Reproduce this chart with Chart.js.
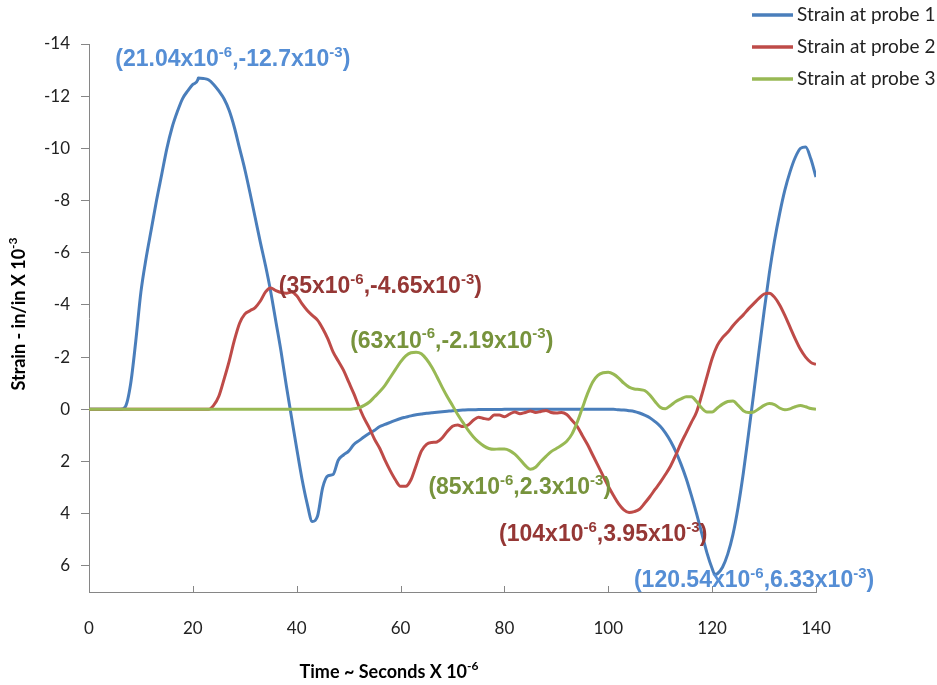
<!DOCTYPE html>
<html>
<head>
<meta charset="utf-8">
<title>Strain at probes</title>
<script src="https://cdn.jsdelivr.net/npm/chart.js@4.4.0/dist/chart.umd.min.js"></script>
<style>
  html, body { margin: 0; padding: 0; background: #fff; }
  #chart01 { display: block; }
</style>
</head>
<body>
<canvas id="chart01" width="937" height="685"></canvas>
<script>
// time axis, microseconds
const timeUs = [
  0, 1, 2, 3, 4, 5, 6, 7, 8, 9,
  10, 11, 12, 13, 14, 15, 16, 17, 18, 19,
  20, 21, 22, 23, 24, 25, 26, 27, 28, 29,
  30, 31, 32, 33, 34, 35, 36, 37, 38, 39,
  40, 41, 42, 43, 44, 45, 46, 47, 48, 49,
  50, 51, 52, 53, 54, 55, 56, 57, 58, 59,
  60, 61, 62, 63, 64, 65, 66, 67, 68, 69,
  70, 71, 72, 73, 74, 75, 76, 77, 78, 79,
  80, 81, 82, 83, 84, 85, 86, 87, 88, 89,
  90, 91, 92, 93, 94, 95, 96, 97, 98, 99,
  100, 101, 102, 103, 104, 105, 106, 107, 108, 109,
  110, 111, 112, 113, 114, 115, 116, 117, 118, 119,
  120, 121, 122, 123, 124, 125, 126, 127, 128, 129,
  130, 131, 132, 133, 134, 135, 136, 137, 138, 139,
  140
];

// strain, in/in x 10^-3
const probe1 = [
  0, 0, 0, 0, 0, 0, 0, -0.1, -0.95, -2.6,
  -4.5, -5.8, -6.9, -8.0, -9.0, -10.0, -10.8, -11.4, -11.9, -12.2,
  -12.45, -12.65, -12.68, -12.63, -12.45, -12.2, -11.9, -11.45, -10.8, -10.0,
  -9.2, -8.3, -7.35, -6.4, -5.5, -4.5, -3.35, -2.2, -0.9, 0.3,
  1.5, 2.65, 3.6, 4.3, 4.1, 3.0, 2.55, 2.5, 1.95, 1.75,
  1.6, 1.35, 1.2, 1.05, 0.92, 0.8, 0.66, 0.58, 0.5, 0.42,
  0.35, 0.3, 0.25, 0.21, 0.18, 0.15, 0.13, 0.11, 0.09, 0.07,
  0.05, 0.04, 0.03, 0.02, 0.02, 0.01, 0.01, 0.01, 0.01, 0.01,
  0, 0, 0, 0, 0, 0, 0, 0, 0, 0,
  0, 0, 0, 0, 0, 0, 0, 0, 0, 0,
  0, 0, 0.02, 0.03, 0.05, 0.08, 0.14, 0.22, 0.32, 0.47,
  0.65, 0.9, 1.22, 1.62, 2.1, 2.65, 3.3, 4.0, 4.75, 5.5,
  6.1, 6.3, 6.05, 5.55, 4.8, 3.75, 2.45, 0.95, -0.6, -2.2,
  -3.75, -5.2, -6.45, -7.5, -8.4, -9.1, -9.65, -10.0, -10.05, -9.6,
  -8.9
];

const probe2 = [
  0, 0, 0, 0, 0, 0, 0, 0, 0, 0,
  0, 0, 0, 0, 0, 0, 0, 0, 0, 0,
  0, 0, 0, 0, -0.15, -0.5, -1.15, -1.85, -2.65, -3.3,
  -3.65, -3.78, -3.9, -4.15, -4.5, -4.65, -4.55, -4.48, -4.45, -4.5,
  -4.35, -4.05, -3.8, -3.6, -3.42, -3.1, -2.7, -2.2, -1.85, -1.5,
  -1.05, -0.6, -0.1, 0.35, 0.72, 1.15, 1.5, 1.95, 2.35, 2.7,
  2.95, 2.95, 2.7, 2.15, 1.6, 1.34, 1.27, 1.25, 1.1, 0.85,
  0.65, 0.6, 0.66, 0.6, 0.42, 0.3, 0.35, 0.38, 0.22, 0.22,
  0.28, 0.18, 0.1, 0.17, 0.12, 0.06, 0.12, 0.08, 0.04, 0.12,
  0.14, 0.12, 0.2, 0.42, 0.65, 1.0, 1.35, 1.75, 2.15, 2.55,
  2.95, 3.3, 3.62, 3.85, 3.95, 3.92, 3.83, 3.6, 3.35, 3.07,
  2.8, 2.5, 2.17, 1.75, 1.3, 0.9, 0.5, 0.1, -0.55, -1.25,
  -1.95, -2.45, -2.75, -2.95, -3.2, -3.42, -3.62, -3.85, -4.05, -4.25,
  -4.42, -4.45, -4.3, -4.0, -3.6, -3.15, -2.7, -2.3, -2.0, -1.8,
  -1.72
];

const probe3 = [
  0, 0, 0, 0, 0, 0, 0, 0, 0, 0,
  0, 0, 0, 0, 0, 0, 0, 0, 0, 0,
  0, 0, 0, 0, 0, 0, 0, 0, 0, 0,
  0, 0, 0, 0, 0, 0, 0, 0, 0, 0,
  0, 0, 0, 0, 0, 0, 0, 0, 0, 0,
  0, -0.02, -0.06, -0.15, -0.28, -0.48, -0.68, -0.92, -1.22, -1.52,
  -1.82, -2.05, -2.17, -2.19, -2.13, -1.92, -1.62, -1.25, -0.85, -0.48,
  -0.15, 0.2, 0.5, 0.8, 1.05, 1.25, 1.4, 1.5, 1.53, 1.52,
  1.52, 1.58, 1.72, 1.92, 2.15, 2.3, 2.22, 2.0, 1.8, 1.62,
  1.5, 1.38, 1.22, 0.95, 0.5, -0.05, -0.6, -1.05, -1.3, -1.4,
  -1.42, -1.35, -1.2, -1.0, -0.85, -0.78, -0.76, -0.72, -0.55, -0.3,
  -0.08, -0.02, -0.15, -0.3, -0.4, -0.48, -0.48, -0.3, -0.05, 0.1,
  0.1, -0.05, -0.2, -0.3, -0.32, -0.15, 0.05, 0.12, 0.1, -0.02,
  -0.15, -0.22, -0.18, -0.05, 0.02, -0.02, -0.1, -0.15, -0.1, -0.03,
  0
];

const seriesNames = ['Strain at probe 1', 'Strain at probe 2', 'Strain at probe 3'];
const lineColors = ['#4A7EBB', '#BE4B48', '#98B954'];
const labelColors = ['#558ED5', '#953735', '#77933C'];

// labelled extremes: which probe, time (us), strain (x10^-3)
const peakProbe = [0, 1, 2, 2, 1, 0];
const peakTime = [21.04, 35, 63, 85, 104, 120.54];
const peakStrain = [-12.7, -4.65, -2.19, 2.3, 3.95, 6.33];
// label placement relative to its point, px (left edge, vertical middle)
const peakLabelOffset = [[-83, -18], [8, -1], [-66, -11], [-102, 18], [-130, 22], [-81, 6]];

const yTicks = [-14, -12, -10, -8, -6, -4, -2, 0, 2, 4, 6];

const FONT = 'Lato, "Noto Sans", sans-serif';
const LABEL_FONT = '"Liberation Sans", Arial, sans-serif';

// merge the labelled points into a probe's series
function buildPoints(values, probeIdx) {
  const pts = timeUs.map((t, i) => ({ x: t, y: values[i] }));
  peakTime.forEach((t, k) => {
    if (peakProbe[k] !== probeIdx) return;
    const hit = pts.find(p => p.x === t);
    if (hit) hit.y = peakStrain[k];
    else pts.push({ x: t, y: peakStrain[k] });
  });
  return pts.sort((a, b) => a.x - b.x);
}

// draws text made of normal and superscript pieces, starting at x
function drawParts(ctx, parts, x, y, size, weight, family) {
  ctx.textBaseline = 'middle';
  ctx.textAlign = 'left';
  parts.forEach(p => {
    const sup = p[1];
    const s = sup ? Math.round(size * 0.65) : size;
    ctx.font = weight + ' ' + s + 'px ' + family;
    ctx.fillText(p[0], x, sup ? y - size * 0.3 : y);
    x += ctx.measureText(p[0]).width;
  });
  return x;
}

function partsWidth(ctx, parts, size, weight, family) {
  let w = 0;
  parts.forEach(p => {
    const s = p[1] ? Math.round(size * 0.65) : size;
    ctx.font = weight + ' ' + s + 'px ' + family;
    w += ctx.measureText(p[0]).width;
  });
  return w;
}

const extras = {
  id: 'extras',
  afterDraw(chart) {
    const ctx = chart.ctx;
    const xs = chart.scales.x;
    const ys = chart.scales.y;
    ctx.save();

    // x tick marks point into the plot
    ctx.strokeStyle = '#868686';
    ctx.lineWidth = 1;
    xs.ticks.forEach(t => {
      const px = Math.round(xs.getPixelForValue(t.value)) + 0.5;
      ctx.beginPath();
      ctx.moveTo(px, ys.bottom);
      ctx.lineTo(px, ys.bottom - 6);
      ctx.stroke();
    });

    // value labels at the extremes
    peakTime.forEach((t, k) => {
      const v = peakStrain[k];
      const px = xs.getPixelForValue(t);
      const py = ys.getPixelForValue(v);
      ctx.fillStyle = labelColors[peakProbe[k]];
      drawParts(ctx, [
        ['(' + t + 'x10', false], ['-6', true],
        [',' + v + 'x10', false], ['-3', true], [')', false]
      ], px + peakLabelOffset[k][0], py + peakLabelOffset[k][1], 23, 'bold', LABEL_FONT);
    });

    // axis titles
    ctx.fillStyle = '#000';
    const xTitle = [['Time ~ Seconds X 10', false], ['-6', true]];
    const xw = partsWidth(ctx, xTitle, 18, 'bold', FONT);
    drawParts(ctx, xTitle, 389 - xw / 2, 672, 18, 'bold', FONT);

    const yTitle = [['Strain - in/in X 10', false], ['-3', true]];
    const yw = partsWidth(ctx, yTitle, 18, 'bold', FONT);
    ctx.save();
    ctx.translate(19, 314);
    ctx.rotate(-Math.PI / 2);
    drawParts(ctx, yTitle, -yw / 2, 0, 18, 'bold', FONT);
    ctx.restore();

    // legend, top right
    seriesNames.forEach((name, i) => {
      const ly = 15 + i * 32;
      ctx.strokeStyle = lineColors[i];
      ctx.lineWidth = 3.5;
      ctx.beginPath();
      ctx.moveTo(752, ly);
      ctx.lineTo(793, ly);
      ctx.stroke();
      ctx.fillStyle = '#222';
      ctx.font = '19px ' + FONT;
      ctx.textBaseline = 'middle';
      ctx.textAlign = 'left';
      ctx.fillText(name, 797, ly);
    });

    ctx.restore();
  }
};

const datasets = [probe1, probe2, probe3].map((vals, i) => ({
  label: seriesNames[i],
  data: buildPoints(vals, i),
  borderColor: lineColors[i],
  backgroundColor: lineColors[i],
  borderWidth: 3,
  pointRadius: 0,
  cubicInterpolationMode: 'monotone',
  order: 2 - i
}));

const ctx = document.getElementById('chart01');
const myLineChart = new Chart(ctx, {
  type: 'line',
  data: { datasets: datasets },
  options: {
    responsive: false,
    animation: false,
    layout: { padding: { top: 44, right: 121, left: 0, bottom: 0 } },
    plugins: {
      legend: { display: false },
      tooltip: { enabled: false }
    },
    scales: {
      x: {
        type: 'linear',
        min: 0,
        max: 140,
        ticks: { stepSize: 20, padding: 26, color: '#222', font: { family: FONT, size: 17 } },
        grid: { drawOnChartArea: false, drawTicks: false },
        border: { color: '#868686' },
        afterFit: scale => { scale.height = 93; }
      },
      y: {
        reverse: true,
        min: -14,
        max: 7,
        afterBuildTicks: scale => { scale.ticks = yTicks.map(v => ({ value: v })); },
        ticks: { padding: 11, color: '#222', font: { family: FONT, size: 17 } },
        grid: { drawOnChartArea: false, drawTicks: true, tickLength: 8, color: '#868686' },
        border: { color: '#868686' },
        afterFit: scale => { scale.width = 89; }
      }
    }
  },
  plugins: [extras]
});
</script>
</body>
</html>
